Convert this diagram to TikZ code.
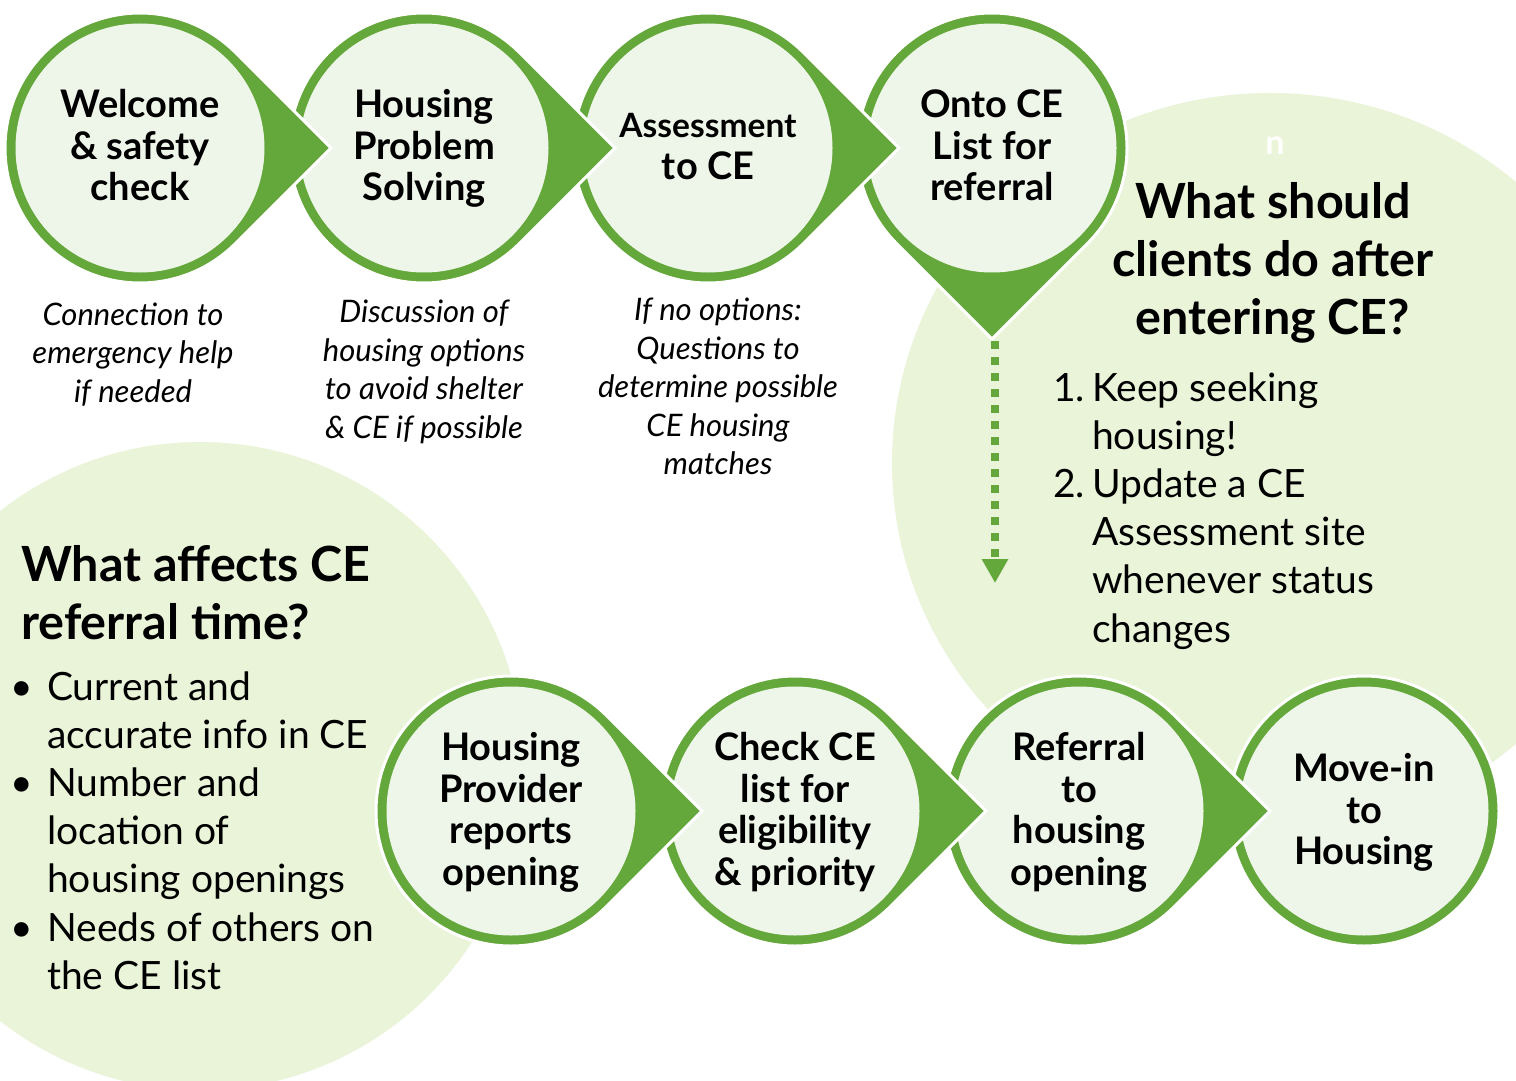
\documentclass[tikz,border=0pt]{standalone}
\usepackage{fontspec}
\setmainfont{Lato}
\usetikzlibrary{calc,arrows.meta}
\definecolor{ringgreen}{RGB}{100,167,58}
\definecolor{innerfill}{RGB}{238,246,234}
\definecolor{bgfill}{RGB}{233,244,217}
\newcommand{\tdrop}[2]{\fill[ringgreen,draw=white,line width=3pt] ($(#1)+(#2:191)$) -- ($(#1)+(#2+45:135)$) arc[start angle=#2+45,end angle=#2+315,radius=135] -- cycle;}
\newcommand{\plaindisc}[1]{\fill[ringgreen,draw=white,line width=3pt] (#1) circle (135);}
\begin{document}
\begin{tikzpicture}[x=1pt,y=-1pt,
  stepcirc/.style={circle, fill=innerfill, minimum size=249pt, inner sep=0pt},
  steplabel/.style={inner sep=0pt, font=\fontsize{38}{41.5}\selectfont\bfseries},
  captiontext/.style={inner sep=0pt, font=\fontsize{31}{38.5}\selectfont\itshape},
  headtext/.style={inner sep=0pt, font=\fontsize{48.5}{58}\selectfont\bfseries},
  listtext/.style={inner sep=0pt, anchor=base west, font=\fontsize{39}{48.2}\selectfont},
  flowarrow/.style={ringgreen, line width=8pt, dash pattern=on 8pt off 8pt,
    -{Triangle[length=24pt,width=25pt]}}
]
\useasboundingbox (0,0) rectangle (1516,1081);
\fill[white] (0,0) rectangle (1516,1081);
\begin{scope}
  \clip (0,0) rectangle (1516,1081);
  \fill[bgfill] (200,766) circle (324);
  \fill[bgfill] (1270,463) ellipse [x radius=378, y radius=370];
\end{scope}

% centres
\coordinate (c1) at (140,148);
\coordinate (c2) at (424,148);
\coordinate (c3) at (708,148);
\coordinate (c4) at (992,148);
\coordinate (c5) at (511,811);
\coordinate (c6) at (795,811);
\coordinate (c7) at (1079,811);
\coordinate (c8) at (1364,811);

% top row (drawn right to left so each tip lies on the next circle)
\tdrop{c4}{90}
\node[stepcirc] (s4) at (c4) {};
\node[steplabel] (l4) at ($(c4)+(0,3)$) {\begin{tabular}{@{}c@{}}Onto CE\\ List for\\ referral\end{tabular}};
\tdrop{c3}{0}
\node[stepcirc] (s3) at (c3) {};
\node[steplabel] (l3) at ($(c3)+(0,2)$) {\begin{tabular}{@{}c@{}}{\fontsize{33.5}{39}\selectfont Assessment}\\ to CE\end{tabular}};
\tdrop{c2}{0}
\node[stepcirc] (s2) at (c2) {};
\node[steplabel] (l2) at ($(c2)+(0,3)$) {\begin{tabular}{@{}c@{}}Housing\\ Problem\\ Solving\end{tabular}};
\tdrop{c1}{0}
\node[stepcirc] (s1) at (c1) {};
\node[steplabel] (l1) at ($(c1)+(0,3)$) {\begin{tabular}{@{}c@{}}Welcome\\ \& safety\\ check\end{tabular}};

% bottom row
\plaindisc{c8}
\node[stepcirc] (s8) at (c8) {};
\node[steplabel] (l8) at ($(c8)+(0,4)$) {\begin{tabular}{@{}c@{}}Move-in\\ to\\ Housing\end{tabular}};
\tdrop{c7}{0}
\node[stepcirc] (s7) at (c7) {};
\node[steplabel] (l7) at ($(c7)+(0,3.5)$) {\begin{tabular}{@{}c@{}}Referral\\ to\\ housing\\ opening\end{tabular}};
\tdrop{c6}{0}
\node[stepcirc] (s6) at (c6) {};
\node[steplabel] (l6) at ($(c6)+(0,3.5)$) {\begin{tabular}{@{}c@{}}Check CE\\ list for\\ eligibility\\ \& priority\end{tabular}};
\tdrop{c5}{0}
\node[stepcirc] (s5) at (c5) {};
\node[steplabel] (l5) at ($(c5)+(0,3.5)$) {\begin{tabular}{@{}c@{}}Housing\\ Provider\\ reports\\ opening\end{tabular}};

% dashed connector from the tip of step 4
\coordinate (s4tip) at ($(c4)+(90:193)$);
\coordinate (arrowend) at (995,583);
\draw[flowarrow] (s4tip -| arrowend) -- (arrowend);

% captions
\node[captiontext] (cap1) at (133,356) {\begin{tabular}{@{}c@{}}Connection to\\ emergency help\\ if needed\end{tabular}};
\node[captiontext] (cap2) at (424,373) {\begin{tabular}{@{}c@{}}Discussion of\\ housing options\\ to avoid shelter\\ \& CE if possible\end{tabular}};
\node[captiontext] (cap3) at (718,390) {\begin{tabular}{@{}c@{}}If no options:\\ Questions to\\ determine possible\\ CE housing\\ matches\end{tabular}};

% right panel
\node[inner sep=0pt, text=white, font=\fontsize{34}{34}\selectfont\bfseries] (nmark) at (1275,146) {n};
\node[headtext] (qright) at (1273,265) {\begin{tabular}{@{}c@{}}What should\\ clients do after\\ entering CE?\end{tabular}};
\node[listtext] (listright) at (1053,401) {\begin{tabular}[t]{@{}p{39pt}@{}l@{}}1. & Keep seeking\\ & housing!\\ 2. & Update a CE\\ & Assessment site\\ & whenever status\\ & changes\end{tabular}};

% left panel
\node[headtext, anchor=base west] (qleft) at (21,581) {\begin{tabular}[t]{@{}l@{}}What affects CE\\ referral time?\end{tabular}};
\node[listtext] (listleft) at (10,700) {\begin{tabular}[t]{@{}p{37pt}@{}l@{}}\textbullet & Current and\\ & accurate info in CE\\ \textbullet & Number and\\ & location of\\ & housing openings\\ \textbullet & Needs of others on\\ & the CE list\end{tabular}};
\end{tikzpicture}
\end{document}
